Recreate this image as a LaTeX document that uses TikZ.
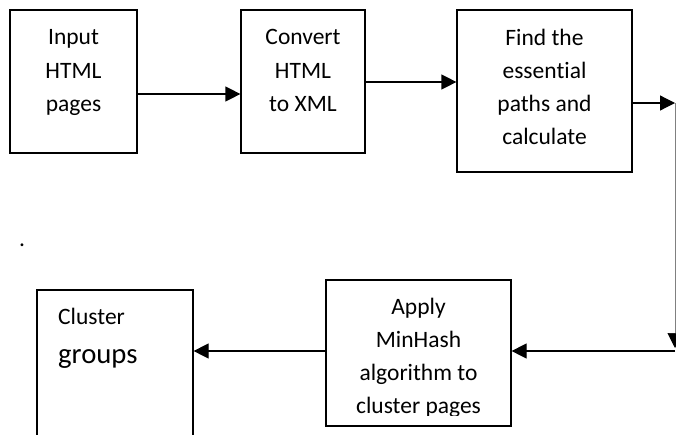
\documentclass[tikz,border=0pt]{standalone}
\usepackage{fontspec}
\setmainfont[Ligatures={NoCommon}]{Carlito}
\usetikzlibrary{arrows.meta}
\newcommand{\sx}{\rule[-16.65pt]{0pt}{33.3pt}}
\begin{document}
\begin{tikzpicture}[x=1pt,y=-1pt,
  box/.style={draw, line width=1.2pt, inner sep=0pt},
  txt/.style={align=center, inner sep=0pt, font=\fontsize{23.5}{33.3}\selectfont},
  arr/.style={line width=1.2pt, -{Triangle[length=15pt,width=15pt]}}]
\clip (0,0) rectangle (676,434);
% boxes
\node[box, minimum width=127pt, minimum height=143pt] (b1) at (73.5,81.5) {};
\node[box, minimum width=124pt, minimum height=143pt] (b2) at (303,81.5) {};
\node[box, minimum width=175pt, minimum height=162pt] (b3) at (544.5,91) {};
\node[box, minimum width=185pt, minimum height=146pt] (mh) at (418.5,353) {};
\node[box, minimum width=156pt, minimum height=190pt] (cl) at (115,385) {};
% texts
\node[txt] (t1) at (73.5,78) {Input\sx\\HTML\sx\\pages\sx};
\node[txt] (t2) at (303,78) {Convert\sx\\HTML\sx\\to XML\sx};
\node[txt] (t3) at (544.5,95) {Find the\sx\\essential\sx\\paths and\sx\\calculate\sx};
\begin{scope}
\clip (326,280) rectangle (511,415);
\node[txt] (t4) at (418.5,364) {Apply\sx\\MinHash\sx\\algorithm to\sx\\cluster pages\sx};
\end{scope}
\node[anchor=base west, inner sep=0pt, font=\fontsize{23.5}{28}\selectfont] (c1) at (58,324) {Cluster};
\node[anchor=base west, inner sep=0pt, font=\fontsize{28.7}{34}\selectfont] (c2) at (58,363) {groups};
\node[anchor=base west, inner sep=0pt, font=\fontsize{23.5}{28}\selectfont] (dot) at (19,246) {.};
% connectors
\coordinate (r1) at (675,103);
\coordinate (r2) at (675,351);
\coordinate (r3) at (675,348);
\draw[arr] ([yshift=-12.5pt]b1.east) -- ([yshift=-12.5pt]b2.west);
\draw[arr] ([yshift=-0.5pt]b2.east) -- ([yshift=-0.5pt]b2.east -| b3.west);
\draw[arr] ([yshift=-12pt]b3.east) -- (r1);
\draw[line width=0.6pt, gray, -{Triangle[length=15pt,width=15pt,color=black]}] (r1) -- (r3);
\draw[arr] (r2) -- (r2 -| mh.east);
\draw[arr] (r2 -| mh.west) -- (r2 -| cl.east);
\end{tikzpicture}
\end{document}
